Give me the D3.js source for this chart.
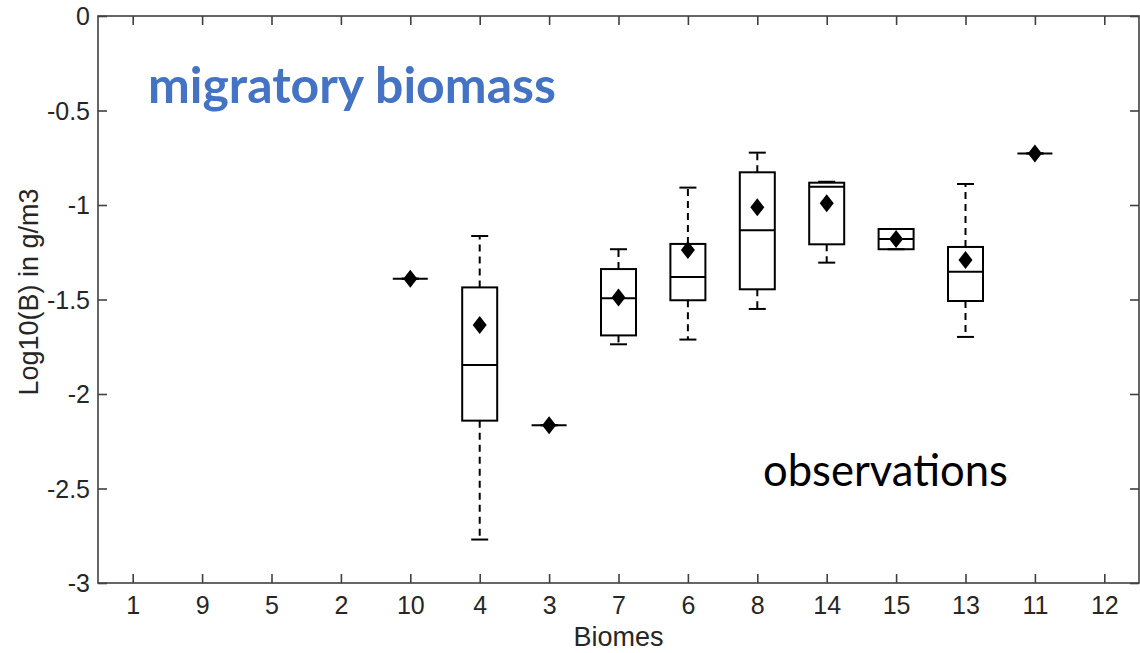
<!DOCTYPE html>
<html>
<head>
<meta charset="utf-8">
<script src="https://cdn.jsdelivr.net/npm/d3@7"></script>
<style>
body { margin: 0; background: #fff; }
svg { display: block; }
</style>
</head>
<body>
<svg id="chart"></svg>
<script>
// biome order along x axis
var biomes = ["1", "9", "5", "2", "10", "4", "3", "7", "6", "8", "14", "15", "13", "11", "12"];
// box stats per biome (null = no data)
var whiskLo = [null, null, null, null, -1.39, -2.77, -2.165, -1.737, -1.712, -1.55, -1.305, -1.234, -1.698, -0.727, null];
var q1      = [null, null, null, null, -1.39, -2.141, -2.165, -1.69, -1.504, -1.446, -1.208, -1.234, -1.508, -0.727, null];
var med     = [null, null, null, null, -1.39, -1.847, -2.165, -1.494, -1.381, -1.134, -0.903, -1.18, -1.353, -0.727, null];
var q3      = [null, null, null, null, -1.39, -1.436, -2.165, -1.339, -1.206, -0.827, -0.882, -1.127, -1.222, -0.727, null];
var whiskHi = [null, null, null, null, -1.39, -1.164, -2.165, -1.234, -0.908, -0.723, -0.877, -1.127, -0.889, -0.727, null];
var means   = [null, null, null, null, -1.39, -1.635, -2.165, -1.49, -1.238, -1.012, -0.991, -1.18, -1.291, -0.727, null];
var yTicks = [0, -0.5, -1, -1.5, -2, -2.5, -3];

var screen = {width: 1140, height: 653};
var plot = {left: 98, right: 1139, top: 16, bottom: 583};

var svg = d3.select("#chart")
    .attr("width", screen.width)
    .attr("height", screen.height);

var xScale = d3.scalePoint()
    .domain(biomes)
    .range([plot.left, plot.right])
    .padding(0.5);

var yScale = d3.scaleLinear()
    .domain([-3, 0])
    .range([plot.bottom, plot.top]);

var axisColor = "#404040";
var tickFont = "'Liberation Sans', Arial, sans-serif";

// frame
svg.append("rect")
    .attr("x", plot.left)
    .attr("y", plot.top)
    .attr("width", plot.right - plot.left)
    .attr("height", plot.bottom - plot.top)
    .attr("fill", "none")
    .attr("stroke", axisColor)
    .attr("stroke-width", 1.6);

var xAxis = d3.axisBottom(xScale).tickSizeInner(-9).tickSizeOuter(0).tickPadding(13);
var yAxis = d3.axisLeft(yScale).tickValues(yTicks).tickSizeInner(-9).tickSizeOuter(0).tickPadding(8)
    .tickFormat(function(d){ return String(d); });

var gx = svg.append("g")
    .attr("transform", "translate(0," + plot.bottom + ")")
    .call(xAxis);
var gy = svg.append("g")
    .attr("transform", "translate(" + plot.left + ",0)")
    .call(yAxis);

// mirror ticks on top and right
var gxTop = svg.append("g")
    .attr("transform", "translate(0," + plot.top + ")")
    .call(d3.axisTop(xScale).tickSizeInner(-9).tickSizeOuter(0).tickFormat(""));
var gyRight = svg.append("g")
    .attr("transform", "translate(" + plot.right + ",0)")
    .call(d3.axisRight(yScale).tickValues(yTicks).tickSizeInner(-9).tickSizeOuter(0).tickFormat(""));

[gx, gy, gxTop, gyRight].forEach(function(g){
    g.select(".domain").remove();
    g.selectAll("line").attr("stroke", axisColor).attr("stroke-width", 1.6);
    g.selectAll("text")
        .attr("fill", "#262626")
        .style("font-family", tickFont)
        .style("font-size", "25px");
});
gy.selectAll("text").attr("dy", "0.35em");

// axis titles
svg.append("text")
    .attr("x", (plot.left + plot.right) / 2)
    .attr("y", 646)
    .attr("text-anchor", "middle")
    .attr("fill", "#262626")
    .style("font-family", tickFont)
    .style("font-size", "27px")
    .text("Biomes");

svg.append("text")
    .attr("transform", "translate(38," + 292 + ") rotate(-90)")
    .attr("text-anchor", "middle")
    .attr("fill", "#262626")
    .style("font-family", tickFont)
    .style("font-size", "27px")
    .text("Log10(B) in g/m3");

// boxes
var rows = biomes.map(function(b, i){
    return {biome: b, lo: whiskLo[i], q1: q1[i], med: med[i], q3: q3[i], hi: whiskHi[i], mean: means[i]};
}).filter(function(d){ return d.med !== null; });

var boxW = 35, capW = 17;

var boxes = svg.selectAll(".box")
    .data(rows)
    .enter()
    .append("g")
    .attr("class", "box")
    .attr("transform", function(d){ return "translate(" + xScale(d.biome) + ",0)"; });

// whiskers
boxes.append("line")
    .attr("y1", function(d){ return yScale(d.q3); })
    .attr("y2", function(d){ return yScale(d.hi); })
    .attr("stroke", "#000").attr("stroke-width", 2).attr("stroke-dasharray", "7,5");
boxes.append("line")
    .attr("y1", function(d){ return yScale(d.q1); })
    .attr("y2", function(d){ return yScale(d.lo); })
    .attr("stroke", "#000").attr("stroke-width", 2).attr("stroke-dasharray", "7,5");
// caps
boxes.append("line")
    .attr("x1", -capW / 2).attr("x2", capW / 2)
    .attr("y1", function(d){ return yScale(d.hi); })
    .attr("y2", function(d){ return yScale(d.hi); })
    .attr("stroke", "#000").attr("stroke-width", 2);
boxes.append("line")
    .attr("x1", -capW / 2).attr("x2", capW / 2)
    .attr("y1", function(d){ return yScale(d.lo); })
    .attr("y2", function(d){ return yScale(d.lo); })
    .attr("stroke", "#000").attr("stroke-width", 2);
// box body
boxes.append("rect")
    .attr("x", -boxW / 2)
    .attr("width", boxW)
    .attr("y", function(d){ return yScale(d.q3); })
    .attr("height", function(d){ return yScale(d.q1) - yScale(d.q3); })
    .attr("fill", "none")
    .attr("stroke", "#000")
    .attr("stroke-width", 2);
// median
boxes.append("line")
    .attr("x1", -boxW / 2).attr("x2", boxW / 2)
    .attr("y1", function(d){ return yScale(d.med); })
    .attr("y2", function(d){ return yScale(d.med); })
    .attr("stroke", "#000").attr("stroke-width", 2);
// mean diamond
boxes.append("path")
    .attr("d", function(d){
        var y = yScale(d.mean);
        return "M0," + (y - 9) + "L7," + y + "L0," + (y + 9) + "L-7," + y + "Z";
    })
    .attr("fill", "#000");

// annotations
var title = svg.append("text")
    .attr("x", 148)
    .attr("y", 103)
    .attr("fill", "#4472C4")
    .style("font-family", "Lato, 'Open Sans', sans-serif")
    .style("font-weight", "bold")
    .style("font-size", "44px")
    .text("migratory biomass");
var tw = title.node().getComputedTextLength();
title.style("font-size", (44 * 408 / tw) + "px");

var obs = svg.append("text")
    .attr("x", 763)
    .attr("y", 486)
    .attr("fill", "#000")
    .style("font-family", "Lato, 'Open Sans', sans-serif")
    .style("font-size", "40px")
    .text("observations");
var ow = obs.node().getComputedTextLength();
obs.style("font-size", (40 * 245 / ow) + "px");
</script>
</body>
</html>
